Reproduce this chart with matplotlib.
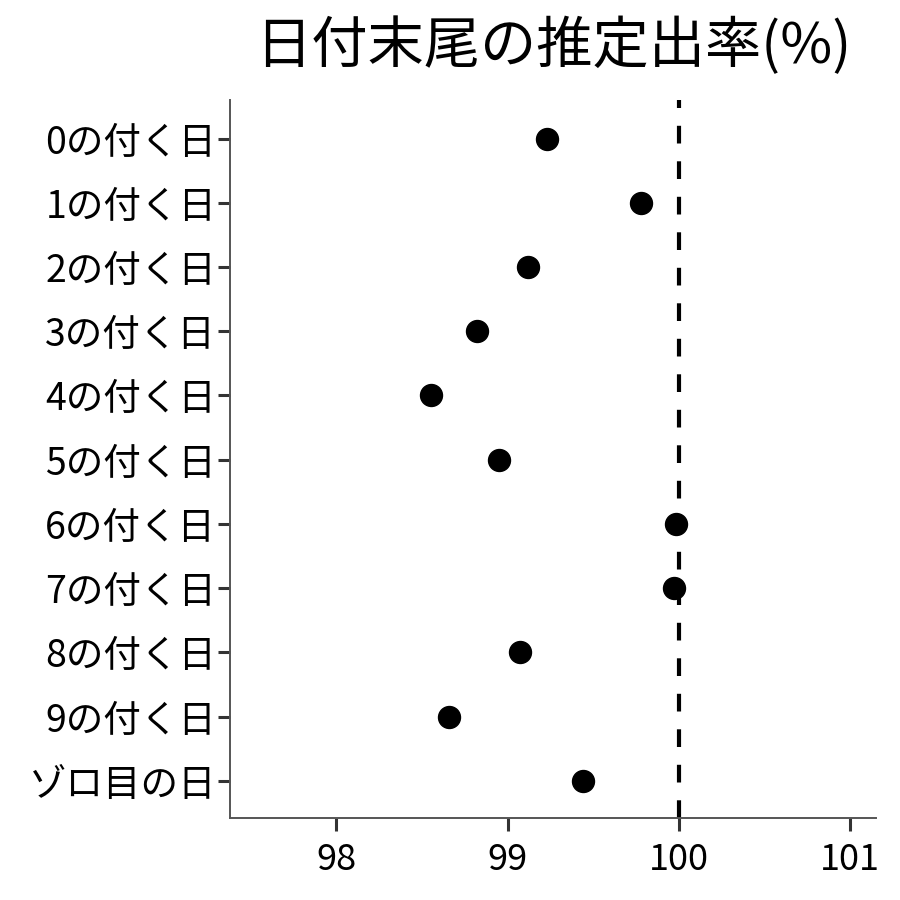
import numpy as np
import matplotlib.pyplot as plt

plt.rcParams['font.family'] = ['Noto Sans CJK JP', 'DejaVu Sans']

# =====================================================
# データ
# =====================================================

labels = ["0の付く日", "1の付く日", "2の付く日", "3の付く日", "4の付く日",
          "5の付く日", "6の付く日", "7の付く日", "8の付く日", "9の付く日",
          "ゾロ目の日"]
rate = [99.23, 99.78, 99.12, 98.82, 98.55, 98.95, 99.98, 99.97, 99.07, 98.66, 99.44]
ref_line = 100
xticks = [98, 99, 100, 101]

# =====================================================
# 描画
# =====================================================

fig = plt.figure(figsize=(9, 9), dpi=100)
ax = fig.add_axes([0.2556, 0.0911, 0.7177, 0.7978])

y = np.arange(len(labels))
ax.scatter(rate, y, s=250, color="black", zorder=3)
ax.axvline(ref_line, color="black", linewidth=3, linestyle=(0, (4.25, 4.27)), zorder=2)

ax.set_xlim(97.38, 101.15)
ax.set_ylim(len(labels) - 0.42, -0.6)
ax.set_yticks(y)
ax.set_yticklabels(labels)
ax.set_xticks(xticks)
ax.set_xticklabels([str(v) for v in xticks])

ax.tick_params(axis="both", length=9, width=2.2, color="#333333")
ax.tick_params(axis="y", labelsize=27, pad=1)
ax.tick_params(axis="x", labelsize=26, pad=8)

for side in ["top", "right"]:
    ax.spines[side].set_visible(False)
for side in ["left", "bottom"]:
    ax.spines[side].set_color("#555555")
    ax.spines[side].set_linewidth(1.4)

fig.text(0.615, 0.948, "日付末尾の推定出率(%)", fontsize=40.5, ha="center", va="center")

fig.savefig("out.png", dpi=100)
